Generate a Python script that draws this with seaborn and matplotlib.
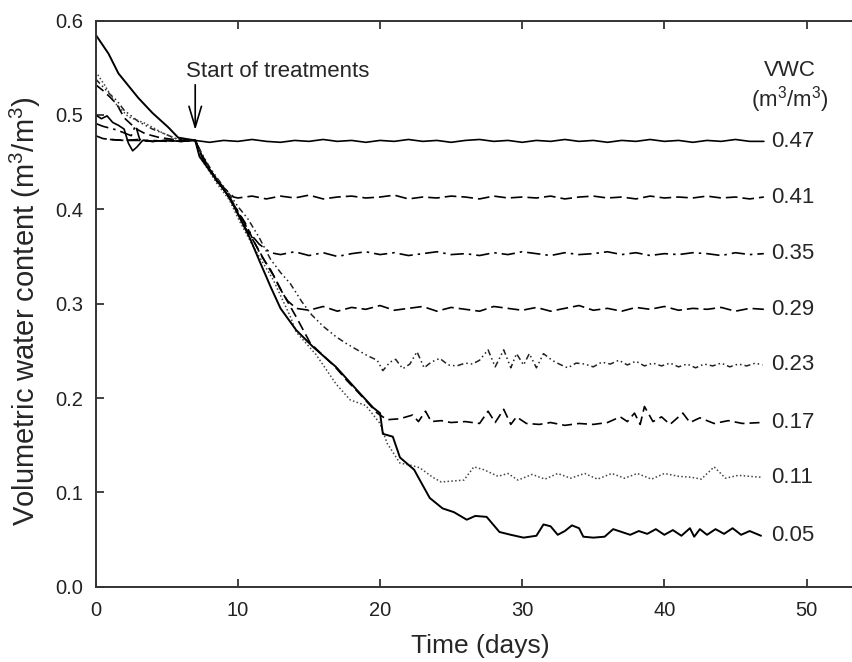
import numpy as np
import pandas as pd
import matplotlib
matplotlib.use('Agg')
import matplotlib.pyplot as plt
import seaborn as sns

# VWC treatment levels (labels on the right)
levels = ['0.47', '0.41', '0.35', '0.29', '0.23', '0.17', '0.11', '0.05']

# --- readings taken from the figure (day, m3/m3) ---
t_047 = [0, 0.4, 0.8, 1.2, 1.6, 2.0, 2.3, 2.6, 2.9, 3.3, 4, 5, 6, 7] + list(range(8, 48))
v_047 = [0.500, 0.496, 0.499, 0.492, 0.489, 0.485, 0.470, 0.462, 0.466, 0.473, 0.472, 0.473, 0.472, 0.473,
         0.471, 0.473, 0.472, 0.474, 0.472, 0.471, 0.473, 0.472, 0.474, 0.472,
         0.473, 0.471, 0.473, 0.472, 0.474, 0.472, 0.473, 0.471, 0.473, 0.474,
         0.472, 0.473, 0.471, 0.473, 0.472, 0.474, 0.472, 0.473, 0.471, 0.473,
         0.472, 0.474, 0.472, 0.473, 0.471, 0.473, 0.472, 0.474, 0.472, 0.472]

t_041 = [0, 0.5, 1, 2, 3, 4, 5, 6, 7, 7.5, 8, 8.5, 9, 9.7] + list(range(10, 48))
v_041 = [0.478, 0.475, 0.474, 0.473, 0.473, 0.472, 0.473, 0.472, 0.473, 0.457, 0.443, 0.432, 0.423, 0.413,
         0.412, 0.414, 0.411, 0.414, 0.412, 0.415, 0.411, 0.413, 0.414, 0.412,
         0.413, 0.415, 0.411, 0.413, 0.412, 0.414, 0.413, 0.411, 0.414, 0.412,
         0.413, 0.412, 0.414, 0.411, 0.413, 0.414, 0.412, 0.413, 0.411, 0.414,
         0.412, 0.413, 0.412, 0.414, 0.412, 0.413, 0.411, 0.413]

t_035 = [0, 0.5, 1, 1.5, 2, 2.5, 2.8, 3.1, 3.5, 4, 5, 6, 7,
         7.5, 8, 8.5, 9, 9.5, 10, 10.5, 11, 11.5, 12.3] + list(range(13, 48))
v_035 = [0.491, 0.488, 0.486, 0.484, 0.481, 0.478, 0.489, 0.474, 0.473, 0.473, 0.472, 0.473, 0.473,
         0.456, 0.444, 0.430, 0.421, 0.411, 0.398, 0.384, 0.372, 0.363, 0.354,
         0.352, 0.355, 0.351, 0.354, 0.350, 0.353, 0.355, 0.352, 0.354, 0.351,
         0.353, 0.355, 0.352, 0.353, 0.351, 0.354, 0.352, 0.355, 0.353, 0.351,
         0.354, 0.352, 0.353, 0.355, 0.352, 0.354, 0.351, 0.353, 0.352, 0.354,
         0.353, 0.351, 0.354, 0.352, 0.353]

t_029 = [1, 2, 3, 4, 5, 6, 7, 7.5, 8, 8.5, 9, 9.5, 10, 10.5, 11, 11.5, 12, 12.5, 13, 13.5, 14.1] + list(range(15, 48))
v_029 = [0.474, 0.473, 0.474, 0.472, 0.473, 0.472, 0.473,
         0.455, 0.441, 0.433, 0.421, 0.409, 0.396, 0.381, 0.369, 0.356, 0.342, 0.330, 0.315, 0.303, 0.295,
         0.293, 0.297, 0.292, 0.296, 0.294, 0.298, 0.293, 0.295, 0.297, 0.292,
         0.296, 0.294, 0.292, 0.297, 0.295, 0.293, 0.296, 0.292, 0.295, 0.298,
         0.293, 0.295, 0.292, 0.296, 0.294, 0.297, 0.293, 0.295, 0.294, 0.296,
         0.292, 0.295, 0.294]

t_023 = [0, 0.5, 1, 1.5, 2, 3, 4, 5, 5.8, 7,
         7.5, 8, 8.5, 9, 9.5, 10, 10.7, 11.5, 12.3, 13, 13.7, 14.5, 15.2, 16, 16.9, 17.6, 18.4, 19.1, 19.8,
         20.2, 20.7, 21.1, 21.6, 22.1, 22.6, 23.1, 23.6, 24.2, 24.8, 25.4, 26.0, 26.5, 27.0, 27.6, 28.1,
         28.7, 29.2, 29.6, 30.1, 30.5, 31.0, 31.5, 32.1, 32.6, 33.2, 33.8, 34.4, 35.0, 35.6, 36.2, 36.8,
         37.4, 38.0, 38.6, 39.2, 39.8, 40.4, 41.0, 41.6, 42.2, 42.8, 43.4, 44.0, 44.6, 45.2, 45.8, 46.4, 46.9]
v_023 = [0.538, 0.530, 0.522, 0.515, 0.505, 0.493, 0.485, 0.479, 0.474, 0.473,
         0.458, 0.445, 0.434, 0.424, 0.414, 0.403, 0.390, 0.370, 0.347, 0.333, 0.321, 0.302, 0.288, 0.276,
         0.265, 0.258, 0.251, 0.245, 0.240,
         0.229, 0.238, 0.241, 0.231, 0.236, 0.249, 0.232, 0.238, 0.242, 0.235, 0.234, 0.237, 0.236, 0.240,
         0.251, 0.233, 0.251, 0.232, 0.247, 0.235, 0.247, 0.232, 0.247, 0.240, 0.236, 0.232, 0.237, 0.236,
         0.233, 0.238, 0.236, 0.240, 0.235, 0.239, 0.234, 0.237, 0.234, 0.237, 0.233, 0.236, 0.232, 0.236,
         0.234, 0.237, 0.233, 0.236, 0.234, 0.237, 0.235]

t_017 = [0, 0.5, 1, 1.5, 2, 2.5, 3, 3.5, 4.5, 5.5, 7,
         7.5, 8, 8.5, 9, 9.5, 10, 10.5, 11, 11.6, 12.3, 13.2, 14.1, 15.1, 16, 16.9, 17.7, 18.4, 19.2, 19.8,
         20.5, 21.4, 22.3, 22.7, 23.2, 23.6, 24.3, 25.0, 26.0, 27.0, 27.6, 28.1, 28.7, 29.2, 29.6, 30.3,
         31.2, 32.0, 33.0, 34.0, 35.0, 36.0, 36.9, 37.4, 37.9, 38.3, 38.6, 39.2, 39.8, 40.4, 41.3, 41.8,
         42.5, 43.5, 44.5, 45.5, 46.8]
v_017 = [0.532, 0.526, 0.519, 0.511, 0.497, 0.490, 0.484, 0.480, 0.476, 0.474, 0.473,
         0.455, 0.443, 0.431, 0.421, 0.410, 0.398, 0.386, 0.370, 0.352, 0.336, 0.310, 0.286, 0.258, 0.245,
         0.232, 0.218, 0.207, 0.194, 0.184,
         0.177, 0.178, 0.182, 0.175, 0.186, 0.175, 0.176, 0.174, 0.175, 0.173, 0.186, 0.174, 0.188, 0.172,
         0.180, 0.173, 0.172, 0.174, 0.171, 0.173, 0.172, 0.174, 0.180, 0.175, 0.184, 0.172, 0.191, 0.175,
         0.180, 0.172, 0.184, 0.174, 0.179, 0.173, 0.176, 0.173, 0.174]

t_011 = [0, 0.7, 1.4, 2.3, 3.5, 4.7, 5.6, 7,
         7.3, 8, 8.5, 9.4, 10.1, 11.1, 12.5, 13.7, 14.1, 15.5, 16.9, 17.9, 19, 20, 20.5, 21.4, 22.1, 22.8,
         23.7, 24.3, 25.1, 25.9, 26.6, 27.3, 28.3, 29.0, 29.7, 30.7, 31.6, 32.5, 33.4, 34.4, 35.3, 36.3,
         37.2, 38.1, 39.1, 40.0, 41.0, 41.9, 42.6, 43.5, 44.3, 45.2, 46.8]
v_011 = [0.546, 0.530, 0.512, 0.498, 0.491, 0.481, 0.475, 0.473,
         0.456, 0.440, 0.428, 0.410, 0.388, 0.360, 0.325, 0.286, 0.270, 0.246, 0.215, 0.198, 0.192, 0.173,
         0.152, 0.131, 0.129, 0.126,
         0.116, 0.111, 0.112, 0.113, 0.127, 0.124, 0.117, 0.120, 0.113, 0.119, 0.114, 0.120, 0.115, 0.120,
         0.114, 0.120, 0.115, 0.120, 0.114, 0.120, 0.117, 0.116, 0.114, 0.127, 0.115, 0.118, 0.116]

t_005 = [0, 0.9, 1.6, 3, 4, 5.1, 5.8, 7,
         7.3, 8.5, 9.4, 10.1, 10.8, 11.5, 12.3, 13, 14.1, 15.3, 16.9, 18.4, 19.5, 20, 20.2, 20.9, 21.4,
         22.4, 22.8, 23.5, 24.4, 25.2, 26.1, 26.7, 27.5, 28.4, 29.2, 30.1, 31, 31.5, 32, 32.5, 33, 33.5,
         34, 34.3, 35, 35.8, 36.4, 37, 37.6, 38.2, 38.8, 39.4, 40, 40.6, 41.2, 41.8, 42.1, 42.5, 43, 43.6,
         44.2, 44.8, 45.4, 46, 46.8]
v_005 = [0.585, 0.565, 0.544, 0.518, 0.502, 0.487, 0.476, 0.473,
         0.456, 0.431, 0.413, 0.392, 0.371, 0.346, 0.318, 0.295, 0.272, 0.254, 0.233, 0.208, 0.190, 0.184,
         0.162, 0.159, 0.137, 0.124, 0.113, 0.094, 0.083, 0.079, 0.071, 0.075, 0.074, 0.058, 0.055, 0.052,
         0.054, 0.066, 0.064, 0.055, 0.059, 0.065, 0.062, 0.053, 0.052, 0.053, 0.061, 0.058, 0.055, 0.059,
         0.056, 0.061, 0.055, 0.060, 0.054, 0.062, 0.053, 0.061, 0.055, 0.061, 0.056, 0.062, 0.055, 0.059,
         0.054]

series_t = [t_047, t_041, t_035, t_029, t_023, t_017, t_011, t_005]
series_v = [v_047, v_041, v_035, v_029, v_023, v_017, v_011, v_005]

styles = ['-', (0, (7, 3)), (0, (8, 3, 1.5, 3)), (0, (7, 3)),
          (0, (4, 2, 1, 2, 1, 2)), (0, (6, 3)), (0, (1, 1.5)), '-']
colors = ['black', 'black', 'black', 'black', '#222222', 'black', '#444444', 'black']
widths = [1.2, 1.2, 1.2, 1.2, 1.1, 1.2, 1.1, 1.4]

sns.set_style('ticks')
plt.rcParams['font.family'] = ['Liberation Sans', 'DejaVu Sans']
plt.rcParams['mathtext.fontset'] = 'custom'
plt.rcParams['mathtext.rm'] = 'Liberation Sans'
plt.rcParams['mathtext.it'] = 'Liberation Sans:italic'

fig = plt.figure(figsize=(8.52, 6.62), dpi=100)
ax = fig.add_axes([95.7 / 852, 1 - 586.7 / 662, (852 - 95.7) / 852, (586.7 - 20.6) / 662])

for lev, t, v, ls, c, lw in zip(levels, series_t, series_v, styles, colors, widths):
    df = pd.DataFrame({'day': t, 'vwc': v})
    sns.lineplot(data=df, x='day', y='vwc', ax=ax, sort=False, estimator=None,
                 color=c, linestyle=ls, linewidth=lw)
    ax.text(47.5, v[-1], lev, fontsize=16, ha='left', va='center')

ax.text(48.8, 0.547, 'VWC', fontsize=16, ha='center', va='center')
ax.text(48.8, 0.516, '(m$^3$/m$^3$)', fontsize=16, ha='center', va='center')

ax.text(6.33, 0.540, 'Start of treatments', fontsize=16, va='baseline')
ax.annotate('', xy=(7, 0.484), xytext=(7, 0.532),
            arrowprops=dict(arrowstyle='->,head_length=1.5,head_width=0.45', lw=1.2,
                            color='black', shrinkA=0, shrinkB=0, mutation_scale=10))

ax.set_xlim(0, 53.2)
ax.set_ylim(0, 0.6)
ax.set_xticks([0, 10, 20, 30, 40, 50])
ax.set_yticks([0.0, 0.1, 0.2, 0.3, 0.4, 0.5, 0.6])
ax.set_yticklabels(['0.0', '0.1', '0.2', '0.3', '0.4', '0.5', '0.6'])
ax.tick_params(direction='in', top=True, right=False, length=6, width=1.2,
               labelsize=14.5, colors='#222222')
ax.tick_params(axis='y', pad=9)
ax.tick_params(axis='x', pad=10)
for side in ['left', 'bottom', 'top']:
    ax.spines[side].set_linewidth(1.4)
    ax.spines[side].set_color('#333333')
ax.spines['right'].set_visible(False)

ax.set_xlabel('Time (days)', fontsize=19)
ax.set_ylabel('Volumetric water content (m$^3$/m$^3$)', fontsize=21)
ax.xaxis.set_label_coords(0.508, -0.083)
ax.yaxis.set_label_coords(-0.07, 0.487)

fig.savefig('out.png', dpi=100)
